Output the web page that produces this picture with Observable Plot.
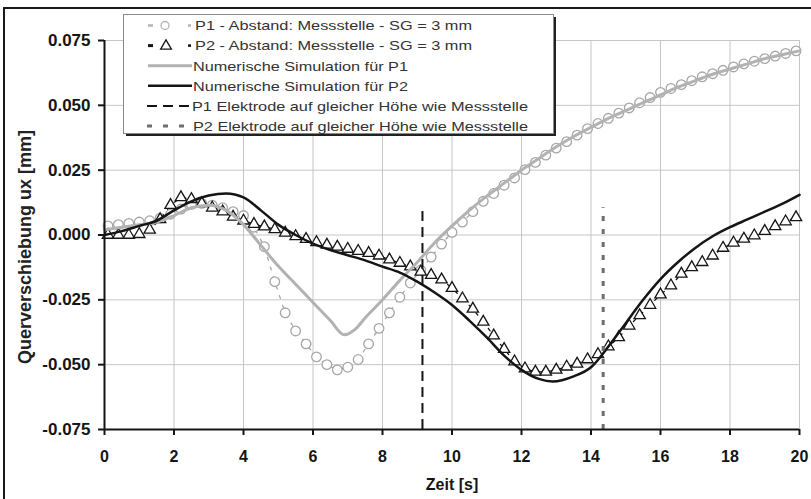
<!DOCTYPE html>
<html><head><meta charset="utf-8">
<script src="https://cdn.jsdelivr.net/npm/d3@7"></script>
<script src="https://cdn.jsdelivr.net/npm/@observablehq/plot@0.6"></script>
<style>
body{margin:0;background:#fff;overflow:hidden;font-family:"Liberation Sans",Arial,sans-serif}
#wrap{position:relative;width:811px;height:499px;overflow:hidden}
#chart{position:absolute;left:0;top:0}
#frame{position:absolute;left:3px;top:7px;width:900px;height:600px;border-left:2px solid #1a1a1a;border-top:2px solid #1a1a1a;pointer-events:none}
#legend{position:absolute;left:0;top:0;pointer-events:none}
</style>
</head><body>
<div id="wrap"><div id="chart"></div><div id="frame"></div><svg id="legend" width="811" height="150"></svg></div>
<script>
// ---- data ----
const xTicks = [0, 2, 4, 6, 8, 10, 12, 14, 16, 18, 20];
const yTicks = [-0.075, -0.05, -0.025, 0, 0.025, 0.05, 0.075];

const tMeas = [0.1,0.4,0.7,1.0,1.3,1.6,1.9,2.2,2.5,2.8,3.1,3.4,3.7,4.0,4.3,4.6,4.9,5.2,5.5,5.8,6.1,6.4,6.7,7.0,7.3,7.6,7.9,8.2,8.5,8.8,9.1,9.4,9.7,10.0,10.3,10.6,10.9,11.2,11.5,11.8,12.1,12.4,12.7,13.0,13.3,13.6,13.9,14.2,14.5,14.8,15.1,15.4,15.7,16.0,16.3,16.6,16.9,17.2,17.5,17.8,18.1,18.4,18.7,19.0,19.3,19.6,19.9];

const p1Meas = [0.0035,0.004,0.0045,0.005,0.0055,0.0065,0.008,0.010,0.0118,0.0122,0.0115,0.0105,0.009,0.0075,0.003,-0.0045,-0.018,-0.030,-0.037,-0.042,-0.047,-0.050,-0.052,-0.051,-0.048,-0.042,-0.036,-0.030,-0.024,-0.0185,-0.0135,-0.0085,-0.0035,0.001,0.005,0.009,0.013,0.016,0.0192,0.022,0.0252,0.028,0.0308,0.0335,0.036,0.0385,0.041,0.043,0.045,0.047,0.049,0.051,0.053,0.055,0.0565,0.058,0.0595,0.061,0.0622,0.0635,0.0648,0.066,0.067,0.068,0.069,0.070,0.071];

const p2Meas = [0,0,0,0.0003,0.002,0.006,0.0115,0.0145,0.0138,0.0122,0.0105,0.009,0.007,0.0055,0.0042,0.0032,0.0022,0.0008,-0.0005,-0.0016,-0.0028,-0.0038,-0.0046,-0.0054,-0.0062,-0.007,-0.008,-0.0095,-0.0108,-0.0122,-0.0142,-0.0155,-0.0172,-0.0205,-0.0245,-0.0285,-0.0335,-0.0388,-0.044,-0.0488,-0.0515,-0.0528,-0.0528,-0.052,-0.0508,-0.0497,-0.048,-0.046,-0.043,-0.0395,-0.035,-0.031,-0.027,-0.023,-0.0195,-0.015,-0.0125,-0.0105,-0.008,-0.005,-0.003,-0.0015,-0.0002,0.0015,0.0033,0.0052,0.0068];

const tSimP1 = [0,0.5,1.0,1.5,2.0,2.5,3.0,3.5,4.0,4.5,5.0,5.5,6.0,6.5,6.9,7.2,7.5,8.0,8.5,9.0,9.5,10.0,10.5,11.0,11.5,12.0,12.5,13.0,13.5,14.0,14.5,15.0,15.5,16.0,16.5,17.0,17.5,18.0,18.5,19.0,19.5,20.0];
const simP1 = [0.002,0.003,0.004,0.005,0.0075,0.0105,0.0115,0.0095,0.004,-0.004,-0.012,-0.019,-0.026,-0.033,-0.0385,-0.0365,-0.032,-0.025,-0.0175,-0.0105,-0.003,0.0035,0.0095,0.015,0.020,0.025,0.0295,0.034,0.038,0.0415,0.045,0.048,0.051,0.054,0.057,0.0595,0.062,0.064,0.066,0.068,0.0695,0.071];

const tSimP2 = [0,0.5,1.0,1.5,2.0,2.5,3.0,3.5,4.0,4.5,5.0,5.5,6.0,6.5,7.0,7.5,8.0,8.5,9.0,9.5,10.0,10.5,11.0,11.5,12.0,12.5,12.9,13.5,14.0,14.5,15.0,15.5,16.0,16.5,17.0,17.5,18.0,18.5,19.0,19.5,20.0];
const simP2 = [0,0.0015,0.0035,0.0055,0.0095,0.013,0.0152,0.016,0.0145,0.0095,0.004,0,-0.0033,-0.0058,-0.0078,-0.0098,-0.0122,-0.0145,-0.018,-0.0222,-0.027,-0.033,-0.0395,-0.0465,-0.052,-0.0555,-0.0565,-0.0545,-0.051,-0.043,-0.034,-0.025,-0.017,-0.0105,-0.005,-0.0005,0.003,0.006,0.009,0.012,0.0155];

const elecX = [9.15, 14.35];
const elecTop = 0.0105;
const yBottom = -0.075;

const legendLabels = [
  "P1 - Abstand: Messstelle - SG = 3 mm",
  "P2 - Abstand: Messstelle - SG = 3 mm",
  "Numerische Simulation für P1",
  "Numerische Simulation für P2",
  "P1 Elektrode auf gleicher Höhe wie Messstelle",
  "P2 Elektrode auf gleicher Höhe wie Messstelle"
];

// ---- tables ----
const meas = tMeas.map((t, i) => ({t, p1: p1Meas[i], p2: p2Meas[i]}));
const sim1 = tSimP1.map((t, i) => ({t, v: simP1[i]}));
const sim2 = tSimP2.map((t, i) => ({t, v: simP2[i]}));

const grey = "#a6a6a6";
const ink = "#151515";

const chart = Plot.plot({
  width: 811, height: 499,
  marginLeft: 104, marginRight: 12, marginTop: 40, marginBottom: 70,
  style: {fontFamily: "'Liberation Sans', Arial, sans-serif", background: "transparent", color: ink},
  x: {domain: [0, 20]},
  y: {domain: [-0.075, 0.075]},
  marks: [
    Plot.gridX(xTicks, {stroke: "#c6c6c6", strokeOpacity: 1, strokeWidth: 1}),
    Plot.gridY(yTicks, {stroke: "#c6c6c6", strokeOpacity: 1, strokeWidth: 1}),
    Plot.line(meas, {x: "t", y: "p1", stroke: grey, strokeWidth: 1.3, strokeDasharray: "3,7"}),
    Plot.dot(meas, {x: "t", y: "p1", r: 4.8, stroke: grey, fill: "white", strokeWidth: 1.3}),
    Plot.line(meas, {x: "t", y: "p2", stroke: ink, strokeWidth: 1.3, strokeDasharray: "3,7"}),
    Plot.dot(meas, {x: "t", y: "p2", r: 4.2, symbol: "triangle", stroke: ink, fill: "white", strokeWidth: 1.3}),
    Plot.line(sim1, {x: "t", y: "v", stroke: "#b2b2b2", strokeWidth: 3, curve: "monotone-x"}),
    Plot.line(sim2, {x: "t", y: "v", stroke: ink, strokeWidth: 2.5, curve: "monotone-x"}),
    Plot.ruleX([elecX[0]], {y1: yBottom, y2: elecTop, stroke: ink, strokeWidth: 2, strokeDasharray: "10,6"}),
    Plot.ruleX([elecX[1]], {y1: yBottom, y2: elecTop, stroke: "#6e6e6e", strokeWidth: 3, strokeDasharray: "5,8"}),
    Plot.ruleX([0], {stroke: ink, strokeWidth: 2}),
    Plot.ruleY([yBottom], {stroke: ink, strokeWidth: 2}),
    Plot.axisX(xTicks, {tickSize: 6, tickPadding: 15, fontSize: 16, fontWeight: "bold", stroke: ink, strokeWidth: 2, color: ink, label: null, tickFormat: d => String(d)}),
    Plot.axisY(yTicks, {tickSize: 6, tickPadding: 8, fontSize: 17, fontWeight: "bold", stroke: ink, strokeWidth: 2, color: ink, label: null, tickFormat: d => d.toFixed(3)}),
    Plot.text(["Zeit [s]"], {frameAnchor: "bottom", dy: 55, lineAnchor: "middle", textAnchor: "middle", fontSize: 16, fontWeight: "bold", fill: ink}),
    Plot.text(["Querverschiebung ux [mm]"], {frameAnchor: "left", dx: -79, dy: 12, rotate: -90, textAnchor: "middle", lineAnchor: "middle", fontSize: 18, fontWeight: "bold", fill: "#222"})
  ]
});
document.getElementById("chart").appendChild(chart);

// ---- legend ----
const lg = d3.select("#legend");
lg.append("rect").attr("x", 126).attr("y", 17).attr("width", 430).attr("height", 119).attr("fill", "#222");
lg.append("rect").attr("x", 123.5).attr("y", 14.5).attr("width", 430).attr("height", 119).attr("fill", "white").attr("stroke", "#8a8a8a").attr("stroke-width", 1);
const rowY = i => 25.5 + 20.1 * i;
const textStart = [195, 195, 193, 193, 192, 193];
const textEnd = [472, 472, 408, 408, 528, 528];
legendLabels.forEach((lab, i) => {
  const y = rowY(i);
  const g = lg.append("g");
  if (i === 0) {
    g.append("line").attr("x1", 148).attr("x2", 153).attr("y1", y).attr("y2", y).attr("stroke", "#b5b5b5").attr("stroke-width", 2.5);
    g.append("circle").attr("cx", 165).attr("cy", y).attr("r", 4).attr("fill", "white").attr("stroke", "#b5b5b5").attr("stroke-width", 1.3);
    g.append("line").attr("x1", 188).attr("x2", 191).attr("y1", y).attr("y2", y).attr("stroke", "#b5b5b5").attr("stroke-width", 2.5);
  } else if (i === 1) {
    g.append("line").attr("x1", 148).attr("x2", 153).attr("y1", y).attr("y2", y).attr("stroke", ink).attr("stroke-width", 3);
    g.append("path").attr("d", d3.symbol(d3.symbolTriangle, 50)()).attr("transform", `translate(166,${y + 0.5})`).attr("fill", "white").attr("stroke", ink).attr("stroke-width", 1.3);
    g.append("line").attr("x1", 188).attr("x2", 191).attr("y1", y).attr("y2", y).attr("stroke", ink).attr("stroke-width", 2.5);
  } else if (i === 2) {
    g.append("line").attr("x1", 148).attr("x2", 192).attr("y1", y).attr("y2", y).attr("stroke", "#b2b2b2").attr("stroke-width", 3);
  } else if (i === 3) {
    g.append("line").attr("x1", 148).attr("x2", 192).attr("y1", y).attr("y2", y).attr("stroke", ink).attr("stroke-width", 2.5);
  } else if (i === 4) {
    g.append("line").attr("x1", 147).attr("x2", 192).attr("y1", y).attr("y2", y).attr("stroke", ink).attr("stroke-width", 2).attr("stroke-dasharray", "10,6");
  } else {
    g.append("line").attr("x1", 147).attr("x2", 190).attr("y1", y).attr("y2", y).attr("stroke", "#6e6e6e").attr("stroke-width", 3).attr("stroke-dasharray", "5,11");
  }
  g.append("text").attr("x", textStart[i]).attr("y", y + 4.8)
    .attr("font-size", 13).attr("fill", "#333")
    .attr("font-family", "'Liberation Sans', Arial, sans-serif")
    .attr("textLength", textEnd[i] - textStart[i]).attr("lengthAdjust", "spacingAndGlyphs")
    .text(lab);
});
</script>
</body></html>
